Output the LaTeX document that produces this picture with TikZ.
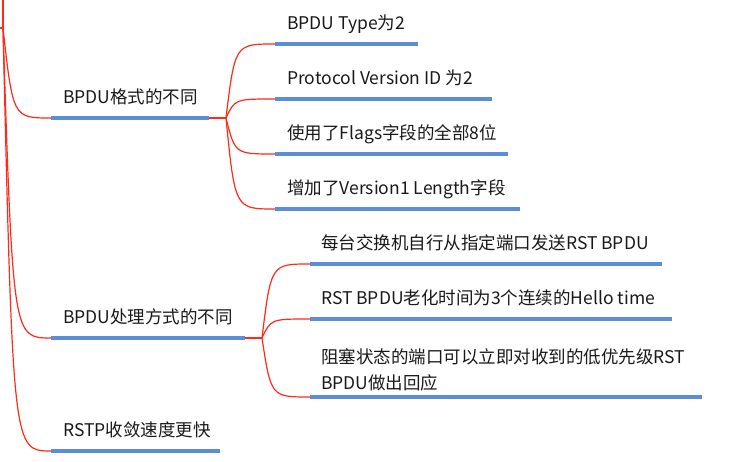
\documentclass[tikz,border=0pt]{standalone}
\usepackage{fontspec}
\setmainfont{Noto Sans CJK SC}
\usetikzlibrary{calc}

\definecolor{barblue}{HTML}{5B8ED6}
\definecolor{linkred}{HTML}{FF2A1A}

\tikzset{
  topic/.style={anchor=base west,inner sep=0pt,align=left,text=black!90,
    font=\fontsize{17.5}{26}\selectfont},
  bar/.style={draw=barblue,line width=4pt},
  link/.style={draw=linkred,line width=1.2pt},
}

\newcommand\curvelink[3]{%
  \draw[link] let \p1=(#1), \p2=(#2) in (\p1) .. controls (\x1+#3pt,\y2) .. (\p2);}

\begin{document}
\begin{tikzpicture}[x=1pt,y=-1pt]
      \useasboundingbox (0,0) rectangle (732,462);
      % root connection
      \coordinate (root) at (3,28);
      \coordinate (rootin) at (0,28);
      \coordinate (rootup) at (3,-2);
      \draw[link] (rootin) -- (root);
      \draw[link] (root) -- (rootup);
      % BPDU format
      \coordinate (fmt) at (51,118);
      \coordinate (fmtend) at (209,118);
      \coordinate (fmtsplit) at (226,118);
      \node[topic] (fmttext) at (63,104) {BPDU格式的不同};
      \draw[bar] (fmt) -- (fmtend);
      \draw[link] (fmtend) -- (fmtsplit);
      \coordinate (type) at (275,44);      \coordinate (typeend) at (418,44);
      \coordinate (version) at (275,99);   \coordinate (versionend) at (492,99);
      \coordinate (flags) at (275,154);    \coordinate (flagsend) at (508,154);
      \coordinate (length) at (275,209);   \coordinate (lengthend) at (520,209);
      \node[topic] (typetext) at (287,30) {BPDU Type为2};
      \node[topic] (versiontext) at (287,85) {Protocol Version ID 为2};
      \node[topic] (flagstext) at (287,140) {使用了Flags字段的全部8位};
      \node[topic] (lengthtext) at (287,195) {增加了Version1 Length字段};
      \foreach \nm in {type,version,flags,length} {
        \draw[bar] (\nm) -- (\nm end);
        \curvelink{fmtsplit}{\nm}{9}
      }
      % BPDU handling
      \coordinate (proc) at (51,338);
      \coordinate (procend) at (245,338);
      \coordinate (procsplit) at (262,338);
      \node[topic] (proctext) at (63,324) {BPDU处理方式的不同};
      \draw[bar] (proc) -- (procend);
      \draw[link] (procend) -- (procsplit);
      \coordinate (send) at (310,264);     \coordinate (sendend) at (662,264);
      \coordinate (aging) at (310,319);    \coordinate (agingend) at (672,319);
      \coordinate (block) at (310,397);    \coordinate (blockend) at (702,397);
      \node[topic] (sendtext) at (321,250) {每台交换机自行从指定端口发送RST BPDU};
      \node[topic] (agingtext) at (321,305) {RST BPDU老化时间为3个连续的Hello time};
      \node[topic] (blocktext) at (321,390) {阻塞状态的端口可以立即对收到的低优先级RST\\BPDU做出回应};
      \foreach \nm in {send,aging,block} {
        \draw[bar] (\nm) -- (\nm end);
        \curvelink{procsplit}{\nm}{9}
      }
      % faster convergence
      \coordinate (fast) at (51,451);
      \coordinate (fastend) at (220,451);
      \node[topic] (fasttext) at (63,437) {RSTP收敛速度更快};
      \draw[bar] (fast) -- (fastend);
      \foreach \nm in {fmt,proc,fast} {
        \curvelink{root}{\nm}{10}
      }
    \end{tikzpicture}
\end{document}
